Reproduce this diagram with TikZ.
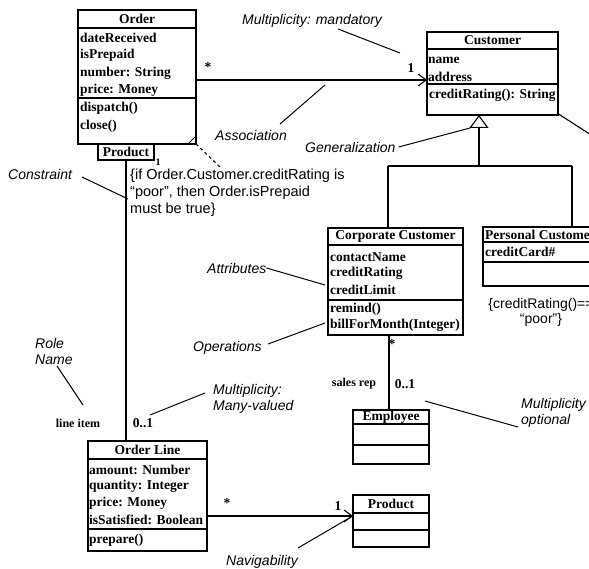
\documentclass[tikz,border=0pt]{standalone}
\usepackage{fontspec}
\setmainfont{Liberation Serif}
\newfontfamily\labelfont{Liberation Sans}
\usetikzlibrary{arrows.meta,calc}

\begin{document}
\begin{tikzpicture}[x=1pt,y=-1pt,
  cls/.style={draw,line width=1.1pt,anchor=north west,inner sep=0pt,outer sep=0pt},
  sep/.style={line width=1.1pt},
  row/.style={anchor=west,inner sep=0pt,font=\bfseries\fontsize{13.5}{15}\selectfont},
  ctitle/.style={anchor=center,inner sep=0pt,font=\bfseries\fontsize{13.5}{15}\selectfont},
  mult/.style={anchor=center,inner sep=0pt,font=\bfseries\fontsize{13.5}{15}\selectfont},
  role/.style={anchor=center,inner sep=0pt,font=\bfseries\fontsize{12}{14}\selectfont},
  callout/.style={anchor=west,inner sep=0pt,align=left,font=\labelfont\itshape\fontsize{14}{16}\selectfont},
  constraint/.style={anchor=north west,inner sep=0pt,align=left,font=\labelfont\fontsize{14.5}{17}\selectfont},
  link/.style={line width=1.1pt},
  pointer/.style={line width=1pt},
  navarrow/.style={link,-{Straight Barb[length=8pt,width=12pt,line width=1.1pt]}},
  genarrow/.style={link,-{Triangle[open,length=13pt,width=19pt,line width=1.1pt]}},
]
\useasboundingbox (0,0) rectangle (589,569);
\clip (0,0) rectangle (589,569);

% ---------- Order ----------
\node[cls,minimum width=118pt,minimum height=134pt] (order) at (78,10) {};
\draw[sep] (78,28) -- (196,28) (78,98) -- (196,98);
\draw[line width=0.8pt] (188,144) -- (196,136);
\node[ctitle] (orderT) at (137,19) {Order};
\node[row] (o1) at (80,38) {dateReceived};
\node[row] (o2) at (80,55) {isPrepaid};
\node[row] (o3) at (80,73) {number: String};
\node[row] (o4) at (80,90) {price: Money};
\node[row] (o5) at (80,108) {dispatch()};
\node[row] (o6) at (80,126) {close()};

% qualifier
\node[cls,minimum width=56pt,minimum height=16pt] (qual) at (98,144) {};
\node[ctitle] (qualT) at (126,152) {Product};
\node[mult,font=\bfseries\fontsize{10}{12}\selectfont] (qualM) at (158,162) {1};

% ---------- Customer ----------
\node[cls,minimum width=131pt,minimum height=83pt] (cust) at (427,32) {};
\draw[sep] (427,49) -- (558,49) (427,84) -- (558,84);
\node[ctitle] (custT) at (492.5,40.5) {Customer};
\node[row] (c1) at (428,60) {name};
\node[row] (c2) at (428,77) {address};
\node[row] (c3) at (429,95) {creditRating(): String};

% ---------- Corporate Customer ----------
\node[cls,minimum width=135pt,minimum height=107pt] (corp) at (328,228) {};
\draw[sep] (328,245) -- (463,245) (328,300) -- (463,300);
\node[ctitle] (corpT) at (395.5,236) {Corporate Customer};
\node[row] (k1) at (330,257) {contactName};
\node[row] (k2) at (330,273) {creditRating};
\node[row] (k3) at (330,290) {creditLimit};
\node[row] (k4) at (330,309) {remind()};
\node[row] (k5) at (330,325) {billForMonth(Integer)};

% ---------- Personal Customer ----------
\node[cls,minimum width=130pt,minimum height=59pt] (pers) at (483,227) {};
\draw[sep] (483,242) -- (613,242) (483,262) -- (613,262);
\node[row] (persT) at (485,235) {Personal Customer};
\node[row] (p1) at (485,252) {creditCard\#};
\node[anchor=north,inner sep=0pt,align=center,font=\labelfont\fontsize{14}{15}\selectfont] (persC) at (541,298) {\{creditRating()==\\“poor”\}};

% ---------- Employee ----------
\node[cls,minimum width=76pt,minimum height=54pt] (emp) at (353,410) {};
\draw[sep] (353,424) -- (429,424) (353,445) -- (429,445);
\node[ctitle] (empT) at (391,417) {Employee};

% ---------- Product ----------
\node[cls,minimum width=76pt,minimum height=52pt] (prod) at (353,495) {};
\draw[sep] (353,513) -- (429,513) (353,530) -- (429,530);
\node[ctitle] (prodT) at (391,504) {Product};

% ---------- Order Line ----------
\node[cls,minimum width=119pt,minimum height=110pt] (ol) at (88,441) {};
\draw[sep] (88,459) -- (207,459) (88,529) -- (207,529);
\node[ctitle] (olT) at (147.5,450) {Order Line};
\node[row] (l1) at (89,470) {amount: Number};
\node[row] (l2) at (89,486) {quantity: Integer};
\node[row] (l3) at (89,503) {price: Money};
\node[row] (l4) at (89,520) {isSatisfied: Boolean};
\node[row] (l5) at (89,540) {prepare()};

% ---------- associations ----------
\coordinate (assocY) at (0,80);
\draw[navarrow] (order.east |- assocY) -- (cust.west |- assocY);
\node[mult] (mOrder) at (208,67) {*};
\node[mult] (mCust) at (411,68) {1};

\coordinate (navY) at (0,516);
\draw[navarrow] (ol.east |- navY) -- (prod.west |- navY);
\node[mult] (mOl) at (227,503) {*};
\node[mult] (mProd) at (338,506) {1};

\draw[link] (qual.south) -- (qual.south |- ol.north);
\node[mult] (mLine) at (143,423) {0..1};
\node[role] (rLine) at (78,423) {line item};

\coordinate (repX) at (389,0);
\draw[link] (corp.south -| repX) -- (emp.north -| repX);
\node[mult] (mCorp) at (392,344) {*};
\node[mult] (mEmp) at (405,384) {0..1};
\node[role] (rRep) at (354,384) {sales rep};

% ---------- generalization ----------
\coordinate (hub) at (479,166);
\coordinate (hubL) at (388,166);
\coordinate (hubR) at (572,166);
\coordinate (genApex) at (479,115);
\draw[genarrow] (hub) -- (genApex);
\draw[link] (hubL) -- (hubR);
\draw[link] (hubL) -- (hubL |- corp.north);
\draw[link] (hubR) -- (hubR |- pers.north);
\coordinate (custOut) at (557,113);
\coordinate (custFar) at (605,144);
\draw[link] (custOut) -- (custFar);

% ---------- constraint note ----------
\node[constraint] (note) at (130,169) {\{if Order.Customer.creditRating is\\“poor”, then Order.isPrepaid\\must be true\}};
\coordinate (noteTip) at (220,167);
\draw[link,dash pattern=on 3pt off 3pt] (order.south east) -- (noteTip);

% ---------- callouts ----------
\node[callout] (cMand) at (242,21) {Multiplicity: mandatory};
\coordinate (tMand) at (400,53);
\draw[pointer] (338,29) -- (tMand);

\node[callout] (cAssoc) at (215,135) {Association};
\coordinate (tAssoc) at (325,85);
\draw[pointer] (280,124) -- (tAssoc);

\node[callout] (cGen) at (305,147) {Generalization};
\coordinate (tGen) at (470,128);
\draw[pointer] (cGen.east) ++(3,0) -- (tGen);

\node[callout] (cCons) at (8,174) {Constraint};
\coordinate (tCons) at (128,199);
\draw[pointer] (82,177) -- (tCons);

\node[callout] (cAttr) at (207,268) {Attributes};
\coordinate (tAttr) at (325,285);
\draw[pointer] (cAttr.east) -- (tAttr);

\node[callout] (cOps) at (193,348) {Operations};
\coordinate (tOps) at (325,323);
\draw[pointer] (268,344) -- (tOps);

\node[callout] (cRole) at (35,351) {Role\\Name};
\coordinate (tRole) at (83,405);
\draw[pointer] (57,366) -- (tRole);

\node[callout] (cMany) at (213,399) {Multiplicity:\\Many-valued};
\coordinate (tMany) at (150,415);
\draw[pointer] (205,393) -- (tMany);

\node[callout] (cOpt) at (521,413) {Multiplicity\\optional};
\coordinate (tOpt) at (425,401);
\draw[pointer] (518,427) -- (tOpt);

\node[callout,anchor=center] (cNav) at (262,562) {Navigability};
\coordinate (tNav) at (351,517);
\draw[pointer] (298,548) -- (tNav);
\end{tikzpicture}
\end{document}
